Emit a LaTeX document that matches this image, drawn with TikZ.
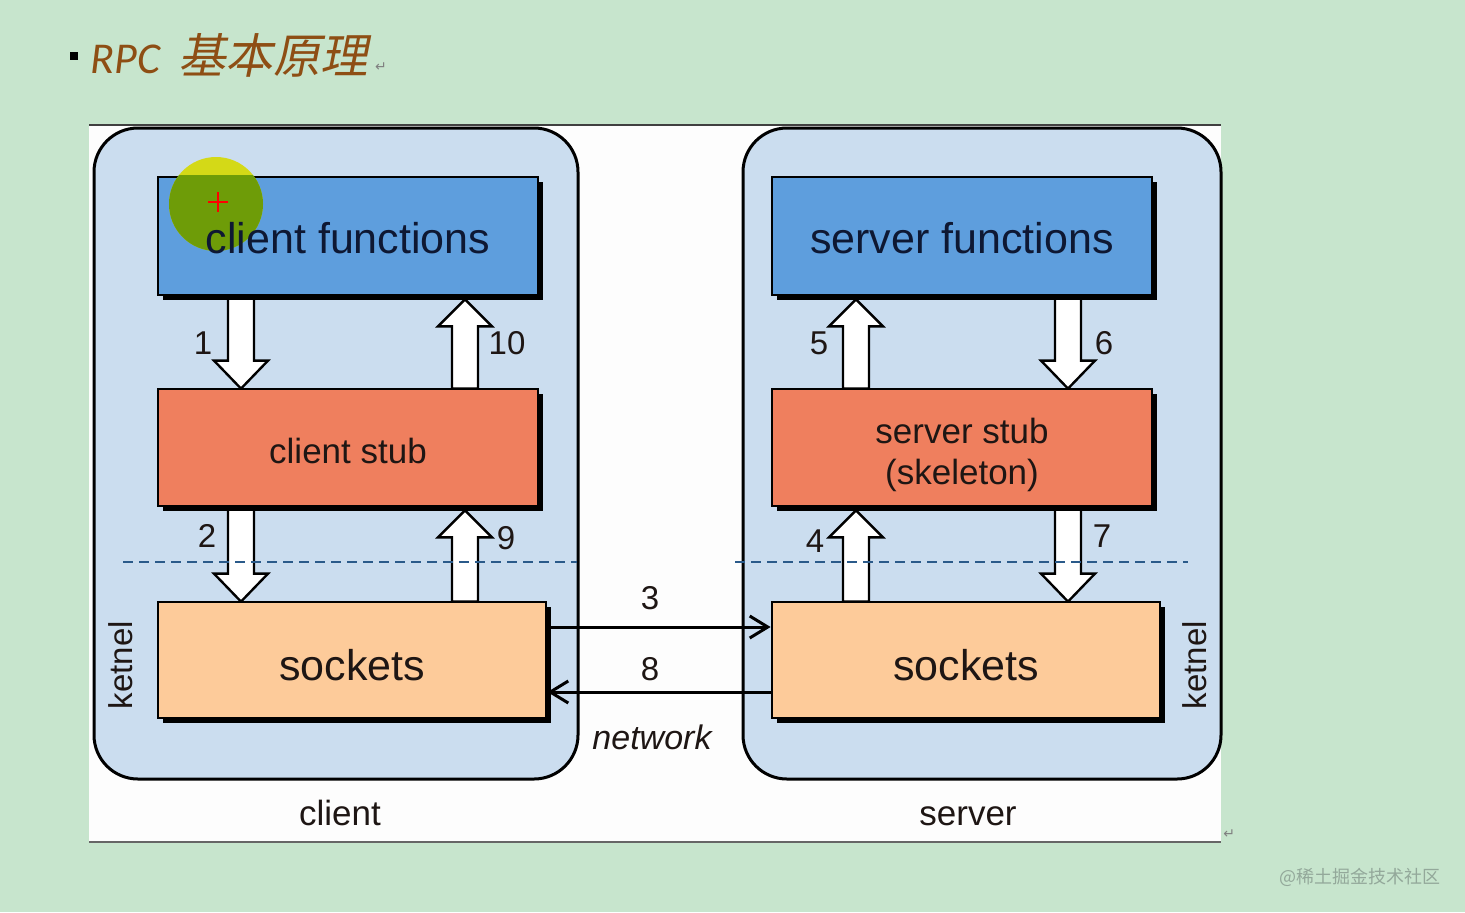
\documentclass[tikz,border=0pt]{standalone}
\usepackage{fontspec}
\setmainfont{Liberation Sans}
\newfontfamily\titlefont{Carlito}
\newfontfamily\cjkfont[FakeSlant=0.2]{Noto Sans CJK SC}
\newfontfamily\cjkplain{Noto Sans CJK SC}
\newfontfamily\symfont{DejaVu Sans}
\usetikzlibrary{calc,shadows,arrows.meta}
\definecolor{bgmint}{HTML}{C7E5CD}
\definecolor{panelwhite}{HTML}{FDFDFD}
\definecolor{contblue}{HTML}{CBDDEF}
\definecolor{fnblue}{HTML}{5E9EDD}
\definecolor{stuborange}{HTML}{EF7F5E}
\definecolor{sockpeach}{HTML}{FDCB9A}
\definecolor{titlebrown}{HTML}{8E4E14}
\definecolor{dashblue}{HTML}{2A5A8A}
\definecolor{navytext}{HTML}{0E1833}
\definecolor{darktext}{HTML}{1E1614}
\definecolor{hlyellow}{HTML}{D6D900}
\definecolor{hlolive}{HTML}{6A9A08}
\definecolor{wmgray}{HTML}{93A89A}
\newcommand\blockdown[3]{%
  \draw[barrow] ($(#1.south -| #3)+(-13,0)$) -- ($(#2.north -| #3)+(-13,-28)$)
    -- ($(#2.north -| #3)+(-27,-28)$) -- (#2.north -| #3)
    -- ($(#2.north -| #3)+(27,-28)$) -- ($(#2.north -| #3)+(13,-28)$)
    -- ($(#1.south -| #3)+(13,0)$) -- cycle;}
\newcommand\blockup[3]{%
  \draw[barrow] ($(#2.north -| #3)+(-13,0)$) -- ($(#1.south -| #3)+(-13,31)$)
    -- ($(#1.south -| #3)+(-27,31)$) -- ($(#1.south -| #3)+(0,4)$)
    -- ($(#1.south -| #3)+(27,31)$) -- ($(#1.south -| #3)+(13,31)$)
    -- ($(#2.north -| #3)+(13,0)$) -- cycle;}
\begin{document}
\begin{tikzpicture}[x=0.5pt,y=-0.5pt,
  container/.style={draw=black, line width=1.5pt, fill=contblue, rounded corners=22pt, inner sep=0pt},
  box/.style={draw=black, line width=1.4pt, inner sep=0pt,
     drop shadow={shadow xshift=2.5pt, shadow yshift=-2.5pt, fill=black, opacity=1}},
  fnbox/.style={box, fill=fnblue, minimum width=190pt, minimum height=59pt},
  stubbox/.style={box, fill=stuborange, minimum width=190pt, minimum height=58.5pt},
  sockbox/.style={box, fill=sockpeach, minimum width=194pt, minimum height=58pt},
  bigtext/.style={font=\fontsize{21.5pt}{25pt}\selectfont},
  midtext/.style={font=\fontsize{17.5pt}{20.5pt}\selectfont, align=center},
  numlabel/.style={font=\fontsize{16.5pt}{19pt}\selectfont, text=darktext, inner sep=0pt},
  barrow/.style={draw=black, line width=1.2pt, fill=white, line join=miter},
  netarrow/.style={draw=black, line width=1.5pt, -{Straight Barb[length=9pt,width=11pt,line width=1.5pt]}},
  divider/.style={draw=dashblue, line width=1pt, dash pattern=on 5pt off 3pt}]
\useasboundingbox (0,0) rectangle (1465,912);
\fill[bgmint] (0,0) rectangle (1465,912);
% title
\fill[black] (70,52) rectangle (78,60);
\node[anchor=base west, text=titlebrown, inner sep=0pt] (title) at (90,73)
  {\fontsize{22pt}{26pt}\selectfont\titlefont\itshape RPC\hspace{9pt}{\cjkfont\fontsize{23.8pt}{26pt}\selectfont 基本原理}};
\node[anchor=base west, text=gray, inner sep=0pt] (ret1) at ($(title.base east)+(6,-2)$)
  {\symfont\fontsize{7pt}{8pt}\selectfont ↵};
% white panel
\fill[panelwhite] (89,125) rectangle (1221,842);
\draw[line width=1pt, color=black!75] (89,125) -- (1221,125);
\draw[line width=1pt, color=black!60] (89,842) -- (1221,842);
\node[anchor=base west, text=gray, inner sep=0pt] (ret2) at (1223,838)
  {\symfont\fontsize{7pt}{8pt}\selectfont ↵};
% containers
\node[container, minimum width=242pt, minimum height=325.5pt] (cl) at (336,453.5) {};
\node[container, minimum width=239pt, minimum height=325.5pt] (sv) at (982,453.5) {};
% x positions of block arrows
\coordinate (xa) at (241,0);
\coordinate (xb) at (465,0);
\coordinate (xc) at (856,0);
\coordinate (xd) at (1068,0);
% positions of boxes (no drawing yet, arrows below them)
\path (348,236) coordinate (pcf) (348,447.5) coordinate (pcs) (352,660) coordinate (pck)
      (962,236) coordinate (psf) (962,447.5) coordinate (pss) (966,660) coordinate (psk);
\path (pcf) node[minimum width=190pt, minimum height=59pt, inner sep=0pt] (cf0) {}
      (pcs) node[minimum width=190pt, minimum height=58.5pt, inner sep=0pt] (cs0) {}
      (pck) node[minimum width=194pt, minimum height=58pt, inner sep=0pt] (ck0) {}
      (psf) node[minimum width=190pt, minimum height=59pt, inner sep=0pt] (sf0) {}
      (pss) node[minimum width=190pt, minimum height=58.5pt, inner sep=0pt] (ss0) {}
      (psk) node[minimum width=194pt, minimum height=58pt, inner sep=0pt] (sk0) {};
% block arrows
\blockdown{cf0}{cs0}{xa}
\blockup{cf0}{cs0}{xb}
\blockdown{cs0}{ck0}{xa}
\blockup{cs0}{ck0}{xb}
\blockup{sf0}{ss0}{xc}
\blockdown{sf0}{ss0}{xd}
\blockup{ss0}{sk0}{xc}
\blockdown{ss0}{sk0}{xd}
% boxes
\node[fnbox] (cf) at (pcf) {};
\node[stubbox, midtext, text=darktext, text height=15.8pt, text depth=0pt] (cs) at (pcs) {client stub};
\node[sockbox, bigtext, text=darktext, text height=20.7pt, text depth=0pt] (ck) at (pck) {sockets};
\node[fnbox, bigtext, text=navytext, text height=17.7pt, text depth=0pt] (sf) at (psf) {server functions};
\node[stubbox] (ss) at (pss) {};
\node[midtext, text=darktext, inner sep=0pt] (sst) at ([yshift=-3.5pt]ss.center) {server stub\\(skeleton)};
\node[sockbox, bigtext, text=darktext, text height=20.7pt, text depth=0pt] (sk) at (psk) {sockets};
% cursor highlight
\fill[hlyellow, opacity=0.9] (216,204) circle[radius=23.5pt];
\begin{scope}
  \clip (cf.north west) rectangle (cf.south east);
  \fill[hlolive, opacity=0.95] (216,204) circle[radius=23.5pt];
\end{scope}
\node[bigtext, text=navytext, inner sep=0pt] (cft) at ([yshift=-1pt]cf.center) {client functions};
\draw[red, line width=1pt] (208,202) -- (228,202) (218,192) -- (218,212);
% dashed dividers
\draw[divider] (123,562) -- (577,562);
\draw[divider] (735,562) -- (1188,562);
% network arrows
\draw[netarrow] ([yshift=16.5pt]ck.east) -- ([yshift=16.5pt]sk.west);
\draw[netarrow] ([yshift=-16pt]sk.west) -- ([yshift=-16pt]ck.east);
% numbers
\node[numlabel] (n1) at (203,343) {1};
\node[numlabel] (n10) at (507,343) {10};
\node[numlabel] (n2) at (207,536) {2};
\node[numlabel] (n9) at (506,538) {9};
\node[numlabel] (n5) at (819,343) {5};
\node[numlabel] (n6) at (1104,343) {6};
\node[numlabel] (n4) at (815,541) {4};
\node[numlabel] (n7) at (1102,536) {7};
\node[numlabel] (n3) at (650,598) {3};
\node[numlabel] (n8) at (650,669) {8};
\node[numlabel, font=\fontsize{17pt}{20pt}\selectfont\itshape] (net) at (652,737) {network};
% kernel labels
\node[numlabel, rotate=90] (kl) at (121,665) {ketnel};
\node[numlabel, rotate=90] (kr) at (1195,665) {ketnel};
% bottom labels
\node[numlabel, anchor=base, font=\fontsize{17.5pt}{20pt}\selectfont] (lc) at (340,825) {client};
\node[numlabel, anchor=base, font=\fontsize{17.5pt}{20pt}\selectfont] (ls) at (968,825) {server};
% watermark
\node[text=wmgray, inner sep=0pt] (wm) at (1360,877) {\cjkplain\fontsize{9pt}{10pt}\selectfont @稀土掘金技术社区};
\end{tikzpicture}
\end{document}
